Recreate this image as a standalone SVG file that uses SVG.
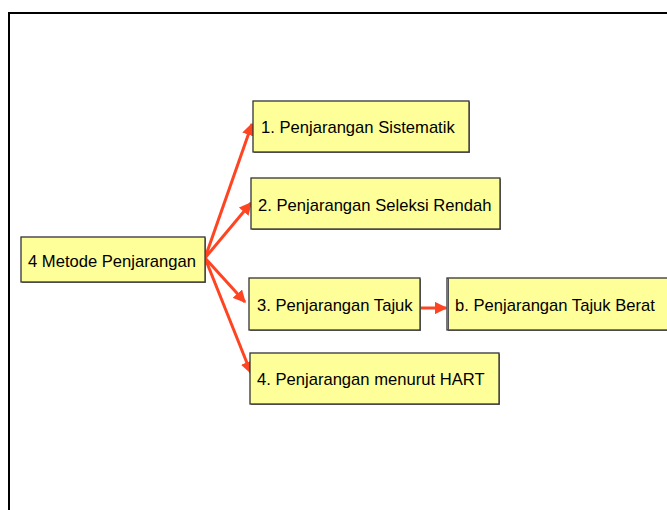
<svg xmlns="http://www.w3.org/2000/svg" width="667" height="510" viewBox="0 0 667 510">
  <style>
    .box { fill: #FFFF99; stroke: #333333; stroke-width: 1.3; }
    .shadow { fill: #777777; }
    .label { font-family: "Liberation Sans", Arial, sans-serif; font-size: 16.6px; fill: #000000; }
    .link { stroke: #FF4422; stroke-width: 3; fill: none; marker-end: url(#head); }
  </style>
  <defs>
    <marker id="head" viewBox="0 0 10 10" refX="9" refY="5" markerWidth="4.2" markerHeight="4.2" orient="auto" markerUnits="strokeWidth">
      <path d="M0,0 L10,5 L0,10 z" fill="#FF4422"/>
    </marker>
  </defs>
  <rect width="667" height="510" fill="#FFFFFF"/>
  <!-- page frame -->
  <path d="M9,510 V13 H668" fill="none" stroke="#000000" stroke-width="2"/>

  <g id="connectors">
    <line class="link" x1="205" y1="258" x2="252" y2="124"/>
    <line class="link" x1="205" y1="258" x2="251" y2="203"/>
    <line class="link" x1="205" y1="258" x2="245" y2="302"/>
    <line class="link" x1="205" y1="258" x2="251" y2="373"/>
    <line class="link" x1="418" y1="308" x2="446" y2="308"/>
  </g>

  <g id="root">
    <rect class="shadow" x="22" y="238" width="184" height="45"/>
    <rect class="box" x="21" y="237" width="184" height="45"/>
    <text class="label" x="28" y="267">4 Metode Penjarangan</text>
  </g>
  <g id="n1">
    <rect class="shadow" x="254" y="102" width="216" height="51"/>
    <rect class="box" x="253" y="101" width="216" height="51"/>
    <text class="label" x="261" y="133">1. Penjarangan Sistematik</text>
  </g>
  <g id="n2">
    <rect class="shadow" x="252" y="179" width="249" height="51"/>
    <rect class="box" x="251" y="178" width="249" height="51"/>
    <text class="label" x="258" y="211">2. Penjarangan Seleksi Rendah</text>
  </g>
  <g id="n3">
    <rect class="shadow" x="250" y="279" width="171" height="52"/>
    <rect class="box" x="249" y="278" width="171" height="52"/>
    <text class="label" x="257" y="311">3. Penjarangan Tajuk</text>
  </g>
  <g id="n3b">
    <rect class="shadow" x="448" y="279" width="222" height="52"/>
    <rect class="box" x="447" y="278" width="222" height="52"/>
    <line x1="448.5" y1="278" x2="448.5" y2="330" stroke="#555555" stroke-width="1"/>
    <text class="label" x="455" y="311">b. Penjarangan Tajuk Berat</text>
  </g>
  <g id="n4">
    <rect class="shadow" x="251" y="354" width="249" height="51"/>
    <rect class="box" x="250" y="353" width="249" height="51"/>
    <text class="label" x="257" y="385">4. Penjarangan menurut HART</text>
  </g>
</svg>
